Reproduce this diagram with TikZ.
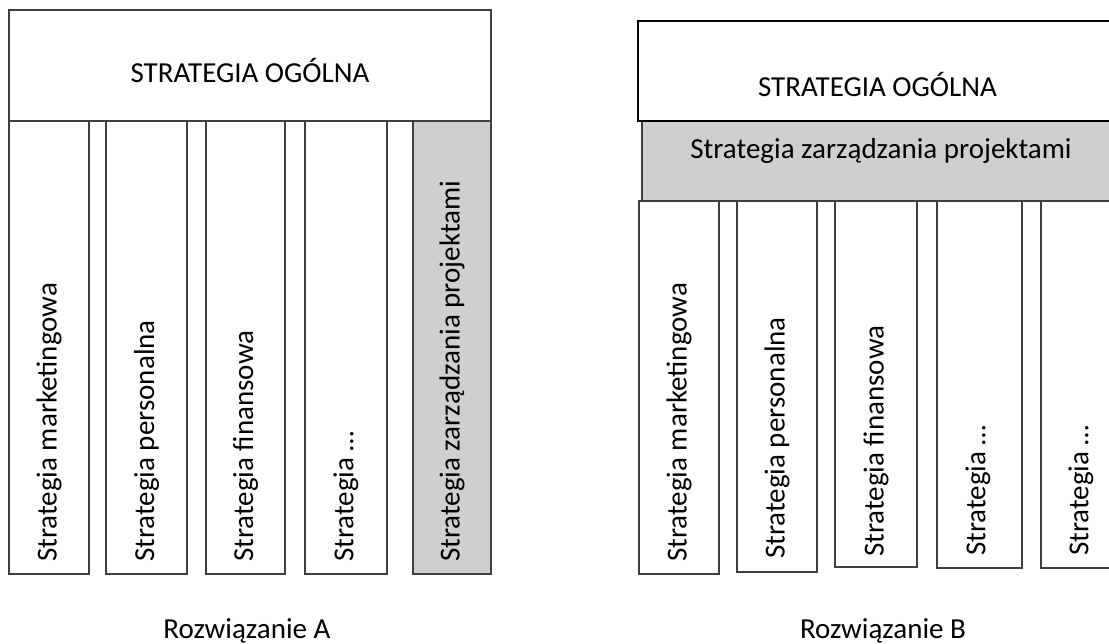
\documentclass[tikz,border=0pt]{standalone}
\usepackage{fontspec}
\setmainfont{Carlito}
\definecolor{linegray}{RGB}{64,64,64}
\definecolor{boxgray}{RGB}{208,206,206}
\begin{document}
\begin{tikzpicture}[x=1pt,y=-1pt,
  box/.style={draw=linegray, line width=1.3pt, fill=white, inner sep=0pt, outer sep=0pt, anchor=north west},
  shaded/.style={box, fill=boxgray},
  txt/.style={font=\fontsize{29}{35}\selectfont, inner sep=0pt, text=black},
  vtxt/.style={txt, rotate=90, anchor=west}]
\useasboundingbox (0,0) rectangle (1109,644);
\clip (0,0) rectangle (1109,644);

% ---- Variant A: functional strategies side by side ----
\node[box, minimum width=80pt, minimum height=453pt] (a1) at (9,121) {};
\node[box, minimum width=81pt, minimum height=453pt] (a2) at (106,121) {};
\node[box, minimum width=79pt, minimum height=453pt] (a3) at (206,121) {};
\node[box, minimum width=82pt, minimum height=453pt] (a4) at (305,121) {};
\node[shaded, minimum width=78pt, minimum height=453pt] (a5) at (413,121) {};
\node[box, minimum width=482pt, minimum height=111pt] (atop) at (9,10) {};

\node[txt, anchor=base] (atoptext) at (250,83) {STRATEGIA OGÓLNA};
\node[vtxt] (a1t) at (49,562) {Strategia marketingowa};
\node[vtxt] (a2t) at (146.5,562) {Strategia personalna};
\node[vtxt] (a3t) at (245.5,562) {Strategia finansowa};
\node[vtxt] (a4t) at (346,562) {Strategia …};
\node[vtxt] (a5t) at (452,562) {Strategia zarządzania projektami};
\node[txt, anchor=base] (alabel) at (247,638) {Rozwiązanie A};

% ---- Variant B: project strategy as a layer above the others ----
\node[box, minimum width=80pt, minimum height=373pt] (b1) at (639,201) {};
\node[box, minimum width=80pt, minimum height=371pt] (b2) at (737,201) {};
\node[box, minimum width=82pt, minimum height=366pt] (b3) at (835,201) {};
\node[box, minimum width=85pt, minimum height=367pt] (b4) at (937,201) {};
\node[box, minimum width=80pt, minimum height=367pt] (b5) at (1041,201) {};
\node[shaded, minimum width=478pt, minimum height=80pt] (bmid) at (642,121) {};
\node[box, draw=black, line width=2pt, minimum width=482pt, minimum height=100pt] (btop) at (638,21) {};

\node[txt, anchor=base] (btoptext) at (877.5,97) {STRATEGIA OGÓLNA};
\node[txt, anchor=base] (bmidtext) at (881,159) {Strategia zarządzania projektami};
\node[vtxt] (b1t) at (679,562) {Strategia marketingowa};
\node[vtxt] (b2t) at (777,559) {Strategia personalna};
\node[vtxt] (b3t) at (876,557) {Strategia finansowa};
\node[vtxt] (b4t) at (978,556) {Strategia …};
\node[vtxt] (b5t) at (1081,556) {Strategia …};
\node[txt, anchor=base] (blabel) at (883,638) {Rozwiązanie B};
\end{tikzpicture}
\end{document}
